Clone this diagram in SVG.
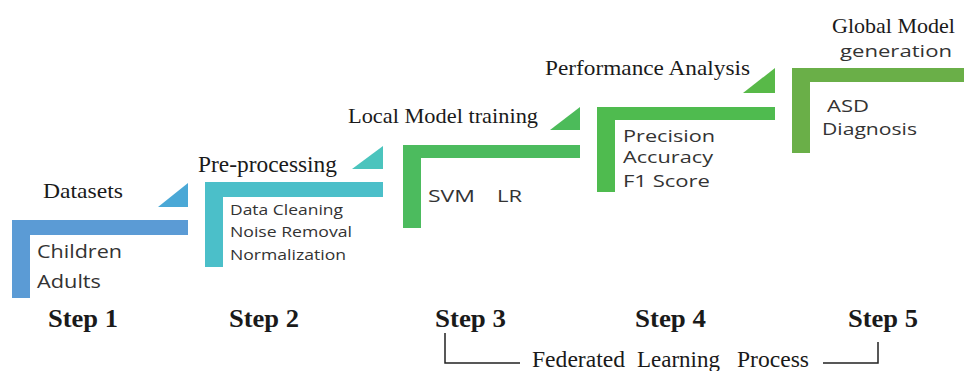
<svg xmlns="http://www.w3.org/2000/svg" width="964" height="371" viewBox="0 0 964 371">
<style>
.serif{font-family:"Liberation Serif","Times New Roman",serif;fill:#1a1a1a;}
.title{font-size:22px;}
.step{font-size:26px;font-weight:bold;}
.sans{font-family:"Open Sans","Liberation Sans",sans-serif;fill:#333;}
.line{fill:none;stroke:#222;stroke-width:1.5;}
</style>
<rect width="964" height="371" fill="#ffffff"/>
<g id="step1">
  <path d="M12,220 H188 V235 H30 V298 H12 Z" fill="#5b9bd5"/>
  <polygon points="158,207 188,207 188,183" fill="#4aa8d6"/>
  <text class="serif title" x="43" y="198" textLength="80" lengthAdjust="spacingAndGlyphs">Datasets</text>
  <text class="sans" font-size="18" x="37" y="258" textLength="85" lengthAdjust="spacingAndGlyphs">Children</text>
  <text class="sans" font-size="18" x="37" y="288" textLength="64" lengthAdjust="spacingAndGlyphs">Adults</text>
  <text class="serif step" x="48" y="327" textLength="70" lengthAdjust="spacingAndGlyphs">Step 1</text>
</g>
<g id="step2">
  <path d="M205,182 H383 V197 H223 V267 H205 Z" fill="#4bbfc9"/>
  <polygon points="352,169 383,169 383,146" fill="#4bc4bd"/>
  <text class="serif" font-size="23" x="198" y="172" textLength="139" lengthAdjust="spacingAndGlyphs">Pre-processing</text>
  <text class="sans" font-size="14" x="230" y="215" textLength="113" lengthAdjust="spacingAndGlyphs">Data Cleaning</text>
  <text class="sans" font-size="14" x="230" y="237" textLength="122" lengthAdjust="spacingAndGlyphs">Noise Removal</text>
  <text class="sans" font-size="14" x="230" y="260" textLength="116" lengthAdjust="spacingAndGlyphs">Normalization</text>
  <text class="serif step" x="229" y="327" textLength="70" lengthAdjust="spacingAndGlyphs">Step 2</text>
</g>
<g id="step3">
  <path d="M403,145 H580 V158 H421 V228 H403 Z" fill="#4cbb5e"/>
  <polygon points="550,130 580,130 580,107" fill="#4cbb5a"/>
  <text class="serif title" x="348" y="123" textLength="190" lengthAdjust="spacingAndGlyphs">Local Model training</text>
  <text class="sans" font-size="16" x="428" y="202" textLength="47" lengthAdjust="spacingAndGlyphs">SVM</text>
  <text class="sans" font-size="16" x="497" y="202" textLength="25" lengthAdjust="spacingAndGlyphs">LR</text>
  <text class="serif step" x="435" y="327" textLength="71" lengthAdjust="spacingAndGlyphs">Step 3</text>
</g>
<g id="step4">
  <path d="M597,107 H775 V120 H615 V192 H597 Z" fill="#4fbb4f"/>
  <polygon points="743,93 775,93 775,68" fill="#58b948"/>
  <text class="serif" font-size="21" x="545" y="75" textLength="205" lengthAdjust="spacingAndGlyphs">Performance Analysis</text>
  <text class="sans" font-size="17" x="623" y="142" textLength="92" lengthAdjust="spacingAndGlyphs">Precision</text>
  <text class="sans" font-size="17" x="623" y="163" textLength="90" lengthAdjust="spacingAndGlyphs">Accuracy</text>
  <text class="sans" font-size="17" x="623" y="187" textLength="87" lengthAdjust="spacingAndGlyphs">F1 Score</text>
  <text class="serif step" x="635" y="327" textLength="71" lengthAdjust="spacingAndGlyphs">Step 4</text>
</g>
<g id="step5">
  <path d="M792,68 H964 V82 H810 V153 H792 Z" fill="#6aaf48"/>
  <text class="serif title" x="832" y="33" textLength="123" lengthAdjust="spacingAndGlyphs">Global Model</text>
  <text class="sans" font-size="17" x="840" y="57" textLength="112" lengthAdjust="spacingAndGlyphs">generation</text>
  <text class="sans" font-size="17" x="827" y="112" textLength="42" lengthAdjust="spacingAndGlyphs">ASD</text>
  <text class="sans" font-size="17" x="822" y="135" textLength="95" lengthAdjust="spacingAndGlyphs">Diagnosis</text>
  <text class="serif step" x="848" y="327" textLength="70" lengthAdjust="spacingAndGlyphs">Step 5</text>
</g>
<g id="connectors">
  <polyline class="line" points="445,333 445,363 520,363"/>
  <polyline class="line" points="823,363 878,363 878,342"/>
</g>
<g id="federated">
  <text class="serif" font-size="24" x="532" y="367" textLength="93" lengthAdjust="spacingAndGlyphs">Federated</text>
  <text class="serif" font-size="24" x="637" y="367" textLength="83" lengthAdjust="spacingAndGlyphs">Learning</text>
  <text class="serif" font-size="24" x="737" y="367" textLength="72" lengthAdjust="spacingAndGlyphs">Process</text>
</g>
</svg>
